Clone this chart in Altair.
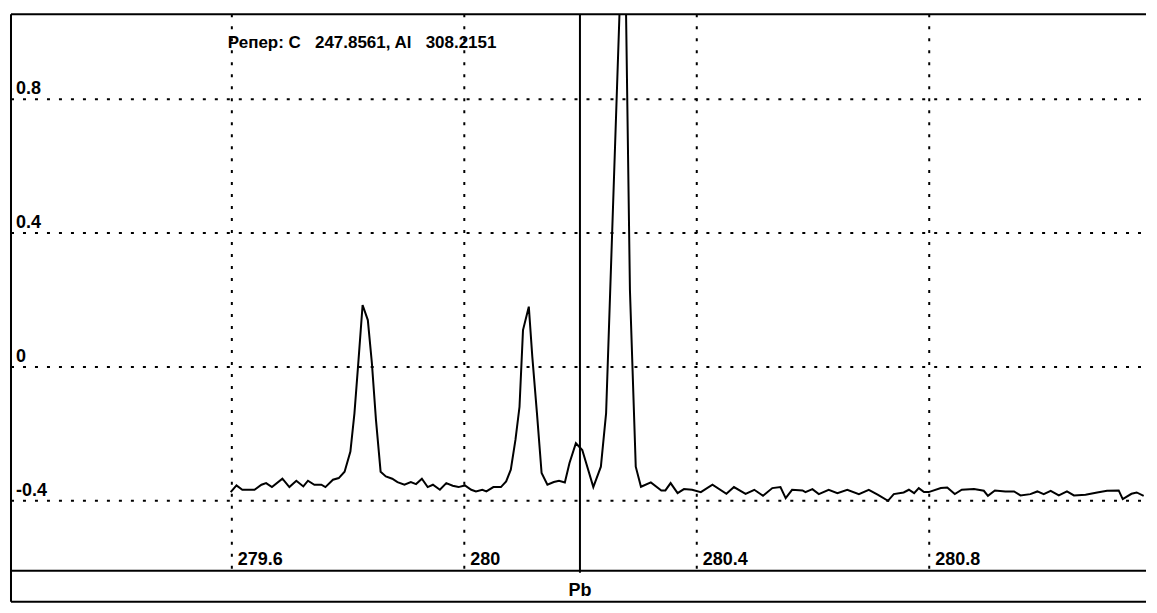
import altair as alt
import pandas as pd

# ---- data ----
wavelength = [279.598, 279.608, 279.618, 279.639, 279.651, 279.659, 279.669, 279.687, 279.699, 279.711,
              279.723, 279.731, 279.742, 279.754, 279.761, 279.774, 279.784, 279.794, 279.804, 279.811,
              279.818, 279.825, 279.834, 279.841, 279.848, 279.856, 279.865, 279.876, 279.885, 279.897,
              279.908, 279.917, 279.927, 279.937, 279.946, 279.958, 279.969, 279.980, 279.990, 280.001,
              280.012, 280.020, 280.031, 280.038, 280.050, 280.063, 280.072, 280.080, 280.088, 280.095,
              280.101, 280.111, 280.117, 280.125, 280.133, 280.143, 280.154, 280.163, 280.173, 280.181,
              280.192, 280.203, 280.222, 280.235, 280.244, 280.275, 280.285, 280.295, 280.304, 280.321,
              280.339, 280.346, 280.355, 280.367, 280.378, 280.392, 280.407, 280.427, 280.451, 280.464,
              280.484, 280.499, 280.514, 280.530, 280.544, 280.553, 280.564, 280.582, 280.587, 280.599,
              280.610, 280.627, 280.642, 280.659, 280.679, 280.696, 280.712, 280.729, 280.739, 280.756,
              280.765, 280.774, 280.782, 280.791, 280.799, 280.820, 280.831, 280.844, 280.856, 280.877,
              280.894, 280.901, 280.913, 280.931, 280.946, 280.957, 280.974, 280.986, 280.997, 281.009,
              281.023, 281.037, 281.049, 281.069, 281.089, 281.106, 281.126, 281.133, 281.148, 281.157,
              281.169]
intensity = [-0.374, -0.354, -0.367, -0.367, -0.352, -0.347, -0.359, -0.334, -0.359, -0.340,
             -0.357, -0.340, -0.352, -0.352, -0.359, -0.337, -0.332, -0.313, -0.253, -0.138,
             0.021, 0.185, 0.140, 0.011, -0.158, -0.313, -0.327, -0.334, -0.344, -0.352,
             -0.344, -0.350, -0.334, -0.359, -0.352, -0.367, -0.347, -0.355, -0.359, -0.354,
             -0.367, -0.372, -0.367, -0.372, -0.359, -0.359, -0.342, -0.307, -0.218, -0.119,
             0.110, 0.180, 0.031, -0.138, -0.317, -0.352, -0.344, -0.340, -0.345, -0.287,
             -0.228, -0.248, -0.359, -0.298, -0.138, 1.469, 0.230, -0.298, -0.358, -0.345,
             -0.369, -0.369, -0.347, -0.377, -0.365, -0.367, -0.374, -0.352, -0.379, -0.359,
             -0.379, -0.367, -0.385, -0.362, -0.359, -0.392, -0.367, -0.369, -0.374, -0.365,
             -0.380, -0.367, -0.377, -0.367, -0.380, -0.367, -0.382, -0.400, -0.380, -0.375,
             -0.367, -0.377, -0.362, -0.374, -0.374, -0.362, -0.360, -0.380, -0.367, -0.365,
             -0.370, -0.385, -0.369, -0.372, -0.372, -0.384, -0.380, -0.372, -0.380, -0.370,
             -0.384, -0.372, -0.384, -0.382, -0.375, -0.370, -0.369, -0.395, -0.379, -0.375,
             -0.385]

x_ticks = [279.6, 280.0, 280.4, 280.8]
x_tick_labels = ["279.6", "280", "280.4", "280.8"]
y_ticks = [0.8, 0.4, 0.0, -0.4]
y_tick_labels = ["0.8", "0.4", "0", "-0.4"]
element_pos = [280.199]
element_name = ["Pb"]
reference_text = "Репер: C\u00a0\u00a0\u00a0247.8561, Al\u00a0\u00a0\u00a0308.2151"

# ---- layout ----
W, H = 1136, 557
STRIP = 31
FONT = "Liberation Sans, Arial, sans-serif"

xs = alt.Scale(domain=[279.220, 281.173], nice=False, zero=False)
ys = alt.Scale(domain=[-0.609, 1.0537], nice=False, zero=False)

spec_df = pd.DataFrame({"wl": wavelength, "val": intensity})
xt_df = pd.DataFrame({"t": x_ticks, "lab": x_tick_labels})
yt_df = pd.DataFrame({"t": y_ticks, "lab": y_tick_labels})
el_df = pd.DataFrame({"p": element_pos, "lab": element_name})
ref_df = pd.DataFrame({"lab": [reference_text]})

black = "#000000"

vgrid = alt.Chart(xt_df).mark_rule(color=black, strokeWidth=2, strokeDash=[3, 9]).encode(
    x=alt.X("t:Q", scale=xs, axis=None), y=alt.value(0), y2=alt.value(H))
hgrid = alt.Chart(yt_df).mark_rule(color=black, strokeWidth=2, strokeDash=[3, 9]).encode(
    y=alt.Y("t:Q", scale=ys, axis=None), x=alt.value(0), x2=alt.value(W))

spectrum = alt.Chart(spec_df).mark_line(color=black, strokeWidth=2, clip=True).encode(
    x=alt.X("wl:Q", scale=xs, axis=None), y=alt.Y("val:Q", scale=ys, axis=None))

xlabels = alt.Chart(xt_df).mark_text(align="left", baseline="alphabetic", dx=6, font=FONT,
                                     fontSize=18, fontWeight="bold", color=black).encode(
    x=alt.X("t:Q", scale=xs, axis=None), y=alt.value(551), text="lab:N")
ylabels = alt.Chart(yt_df).mark_text(align="left", baseline="alphabetic", dy=-5, font=FONT,
                                     fontSize=18, fontWeight="bold", color=black).encode(
    y=alt.Y("t:Q", scale=ys, axis=None), x=alt.value(5), text="lab:N")

el_line = alt.Chart(el_df).mark_rule(color=black, strokeWidth=2).encode(
    x=alt.X("p:Q", scale=xs, axis=None), y=alt.value(0), y2=alt.value(H + 2))
el_text = alt.Chart(el_df).mark_text(align="center", baseline="alphabetic", font=FONT,
                                     fontSize=18, fontWeight="bold", color=black).encode(
    x=alt.X("p:Q", scale=xs, axis=None), y=alt.value(H + 25), text="lab:N")

ref = alt.Chart(ref_df).mark_text(align="left", baseline="alphabetic", font=FONT,
                                  fontSize=17, fontWeight="bold", color=black).encode(
    x=alt.value(217), y=alt.value(34), text="lab:N")

frame_top = alt.Chart(ref_df).mark_rule(color=black, strokeWidth=2).encode(
    x=alt.value(0), x2=alt.value(W), y=alt.value(0))
frame_left = alt.Chart(ref_df).mark_rule(color=black, strokeWidth=2).encode(
    x=alt.value(0), y=alt.value(0), y2=alt.value(H + STRIP))
frame_mid = alt.Chart(ref_df).mark_rule(color=black, strokeWidth=2).encode(
    x=alt.value(0), x2=alt.value(W), y=alt.value(H))
frame_bot = alt.Chart(ref_df).mark_rule(color=black, strokeWidth=2).encode(
    x=alt.value(0), x2=alt.value(W), y=alt.value(H + STRIP))

chart = alt.layer(
    vgrid, hgrid, spectrum, el_line, xlabels, ylabels, el_text, ref,
    frame_top, frame_left, frame_mid, frame_bot
).properties(
    width=W, height=H,
    padding={"left": 3, "top": 6, "right": 3, "bottom": 36},
    autosize=alt.AutoSizeParams(type="none"),
    background="white",
).configure_view(stroke=None)

chart.save("out.html", embed_options={"renderer": "svg", "actions": False})
